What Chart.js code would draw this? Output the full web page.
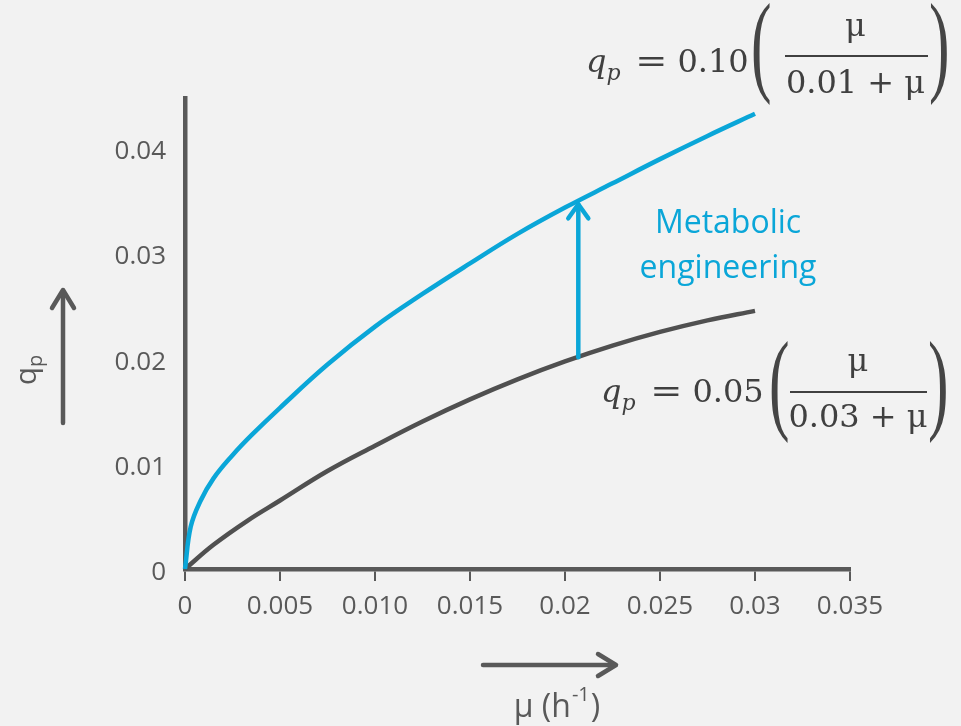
<!DOCTYPE html>
<html>
<head>
<meta charset="utf-8">
<script src="https://cdn.jsdelivr.net/npm/chart.js@4.4.1/dist/chart.umd.min.js"></script>
<style>
  html, body { margin: 0; padding: 0; background: #f2f2f2; }
  #wrap { position: relative; width: 961px; height: 726px; overflow: hidden; background: #f2f2f2; }
  #chart { position: absolute; left: 0; top: 0; }
  .eq { position: absolute; font-family: "DejaVu Serif", serif; font-size: 32px; line-height: 32px; color: #404040; white-space: nowrap; }
  .eq i { font-style: italic; }
  .eq sub { font-size: 22px; vertical-align: -8px; font-style: italic; }
  .eq .op { display: inline-block; margin: 0 13px 0 17px; transform: scaleX(1.2); }
  .paren { position: absolute; font-family: "Liberation Serif", serif; font-size: 112px; line-height: 112px; color: #454545; transform: scaleX(0.55); transform-origin: 0 0; }
  .num, .den { position: absolute; text-align: center; font-family: "DejaVu Serif", serif; font-size: 32px; line-height: 32px; color: #404040; }
  .bar { position: absolute; height: 2px; background: #404040; }
</style>
</head>
<body>
<div id="wrap">
  <canvas id="chart" width="961" height="726"></canvas>

  <!-- upper equation -->
  <div class="eq" style="left:586px; top:45px;"><i>q</i><sub>p</sub><span class="op">=</span>0.10</div>
  <div class="paren" style="left:751px; top:-13px;">(</div>
  <div class="num" style="left:783px; top:9px; width:145px;">μ</div>
  <div class="bar" style="left:785px; top:55px; width:143px;"></div>
  <div class="den" style="left:783px; top:66px; width:145px;">0.01 + μ</div>
  <div class="paren" style="left:929px; top:-13px;">)</div>

  <!-- lower equation -->
  <div class="eq" style="left:601px; top:375px;"><i>q</i><sub>p</sub><span class="op">=</span>0.05</div>
  <div class="paren" style="left:769px; top:325px;">(</div>
  <div class="num" style="left:788px; top:344px; width:140px;">μ</div>
  <div class="bar" style="left:790px; top:391px; width:137px;"></div>
  <div class="den" style="left:788px; top:400px; width:140px;">0.03 + μ</div>
  <div class="paren" style="left:928px; top:325px;">)</div>
</div>

<script>
// ---- data ----
const muEngineered = [0, 0.0003, 0.0008, 0.0015, 0.0025, 0.0035, 0.005, 0.0075, 0.01, 0.0125, 0.015, 0.0175, 0.02, 0.0225, 0.025, 0.0275, 0.03];
const qpEngineered = [0, 0.0040, 0.0064, 0.0086, 0.0108, 0.0127, 0.0153, 0.0194, 0.0230, 0.0261, 0.0290, 0.0318, 0.0343, 0.0366, 0.0389, 0.0411, 0.0432];

const muWild = [0, 0.0015, 0.0033, 0.005, 0.0075, 0.01, 0.0125, 0.015, 0.0175, 0.02, 0.0225, 0.025, 0.0275, 0.03];
const qpWild = [0, 0.0023, 0.0046, 0.0065, 0.0093, 0.0117, 0.0140, 0.0161, 0.0180, 0.0197, 0.0212, 0.0225, 0.0236, 0.0245];

const xTickValues = [0, 0.005, 0.010, 0.015, 0.020, 0.025, 0.030, 0.035];
const xTickLabels = ["0", "0.005", "0.010", "0.015", "0.02", "0.025", "0.03", "0.035"];
const yTickValues = [0, 0.01, 0.02, 0.03, 0.04];
const yTickLabels = ["0", "0.01", "0.02", "0.03", "0.04"];

// arrow "Metabolic engineering": from wild-type curve up to engineered curve
const arrowMu = 0.0207;
const arrowFromQp = 0.0201;
const arrowToQp = 0.0348;

const BLUE = '#0aa6d8';
const DARK = '#505050';
const AXIS = '#595959';

function toPoints(xs, ys) { return xs.map((x, i) => ({ x: x, y: ys[i] })); }

const annotations = {
  id: 'annotations',
  afterDatasetsDraw(chart) {
    const ctx = chart.ctx;
    const xs = chart.scales.x, ys = chart.scales.y;
    ctx.save();
    ctx.lineCap = 'round';
    ctx.lineJoin = 'round';

    // metabolic engineering arrow
    const ax = xs.getPixelForValue(arrowMu);
    const ay1 = ys.getPixelForValue(arrowFromQp);
    const ay2 = ys.getPixelForValue(arrowToQp);
    ctx.strokeStyle = BLUE;
    ctx.lineWidth = 4.5;
    ctx.beginPath();
    ctx.moveTo(ax, ay1);
    ctx.lineTo(ax, ay2 + 2);
    ctx.stroke();
    ctx.beginPath();
    ctx.moveTo(ax - 10, ay2 + 16);
    ctx.lineTo(ax, ay2 + 2);
    ctx.lineTo(ax + 10, ay2 + 16);
    ctx.stroke();

    ctx.fillStyle = BLUE;
    ctx.font = '32px "Open Sans"';
    ctx.textAlign = 'center';
    ctx.textBaseline = 'middle';
    ctx.fillText('Metabolic', 728, 224);
    ctx.fillText('engineering', 728, 269);

    // y-axis direction arrow
    ctx.strokeStyle = AXIS;
    ctx.lineWidth = 4.5;
    ctx.beginPath();
    ctx.moveTo(63, 423);
    ctx.lineTo(63, 291);
    ctx.stroke();
    ctx.beginPath();
    ctx.moveTo(52, 308);
    ctx.lineTo(63, 290);
    ctx.lineTo(74, 308);
    ctx.stroke();

    // x-axis direction arrow
    ctx.beginPath();
    ctx.moveTo(483, 665);
    ctx.lineTo(615, 665);
    ctx.stroke();
    ctx.beginPath();
    ctx.moveTo(598, 654);
    ctx.lineTo(616, 665);
    ctx.lineTo(598, 676);
    ctx.stroke();

    // y title q_p (rotated)
    ctx.fillStyle = AXIS;
    ctx.save();
    ctx.translate(36, 370);
    ctx.rotate(-Math.PI / 2);
    ctx.textAlign = 'left';
    ctx.textBaseline = 'alphabetic';
    ctx.font = '30px "Open Sans"';
    const qW = ctx.measureText('q').width;
    ctx.font = '20px "Open Sans"';
    const pW = ctx.measureText('p').width;
    const startX = -(qW + pW) / 2;
    ctx.font = '30px "Open Sans"';
    ctx.fillText('q', startX, 0);
    ctx.font = '20px "Open Sans"';
    ctx.fillText('p', startX + qW, 6);
    ctx.restore();

    // x title  μ (h^-1)
    ctx.textAlign = 'left';
    ctx.textBaseline = 'alphabetic';
    ctx.font = '32px "Open Sans"';
    const part1 = 'μ (h';
    const w1 = ctx.measureText(part1).width;
    ctx.font = '20px "Open Sans"';
    const w2 = ctx.measureText('-1').width;
    ctx.font = '32px "Open Sans"';
    const w3 = ctx.measureText(')').width;
    const x0 = 556 - (w1 + w2 + w3) / 2;
    ctx.fillText(part1, x0, 717);
    ctx.font = '20px "Open Sans"';
    ctx.fillText('-1', x0 + w1 + 1, 701);
    ctx.font = '32px "Open Sans"';
    ctx.fillText(')', x0 + w1 + w2 + 2, 717);

    ctx.restore();
  }
};

new Chart(document.getElementById('chart'), {
  type: 'line',
  data: {
    datasets: [
      {
        label: 'qp = 0.10 (μ / (0.01 + μ))',
        data: toPoints(muEngineered, qpEngineered),
        borderColor: BLUE,
        borderWidth: 4.5,
        pointRadius: 0,
        tension: 0.4,
        fill: false,
        clip: false
      },
      {
        label: 'qp = 0.05 (μ / (0.03 + μ))',
        data: toPoints(muWild, qpWild),
        borderColor: DARK,
        borderWidth: 4.5,
        pointRadius: 0,
        tension: 0.4,
        fill: false,
        clip: false
      }
    ]
  },
  options: {
    responsive: false,
    animation: false,
    devicePixelRatio: 1,
    layout: { padding: { top: 98, right: 111, left: 0, bottom: 0 } },
    plugins: { legend: { display: false }, tooltip: { enabled: false }, title: { display: false } },
    scales: {
      x: {
        type: 'linear',
        min: 0,
        max: 0.035,
        afterFit(s) { s.height = 157; },
        afterBuildTicks(s) { s.ticks = xTickValues.map(v => ({ value: v })); },
        ticks: {
          autoSkip: false,
          maxRotation: 0,
          padding: 10,
          color: AXIS,
          font: { family: 'Open Sans', size: 26 },
          callback: (v, i) => xTickLabels[i]
        },
        grid: { display: true, drawOnChartArea: false, drawTicks: true, tickLength: 12, color: AXIS, lineWidth: 2 },
        border: { display: true, color: AXIS, width: 4.5 }
      },
      y: {
        type: 'linear',
        min: 0,
        max: 0.0447,
        afterFit(s) { s.width = 185; },
        afterBuildTicks(s) { s.ticks = yTickValues.map(v => ({ value: v })); },
        ticks: {
          autoSkip: false,
          padding: 19,
          labelOffset: 4,
          color: AXIS,
          font: { family: 'Open Sans', size: 26 },
          callback: (v, i) => yTickLabels[i]
        },
        grid: { display: false, drawTicks: false },
        border: { display: true, color: AXIS, width: 4.5 }
      }
    }
  },
  plugins: [annotations]
});
</script>
</body>
</html>
